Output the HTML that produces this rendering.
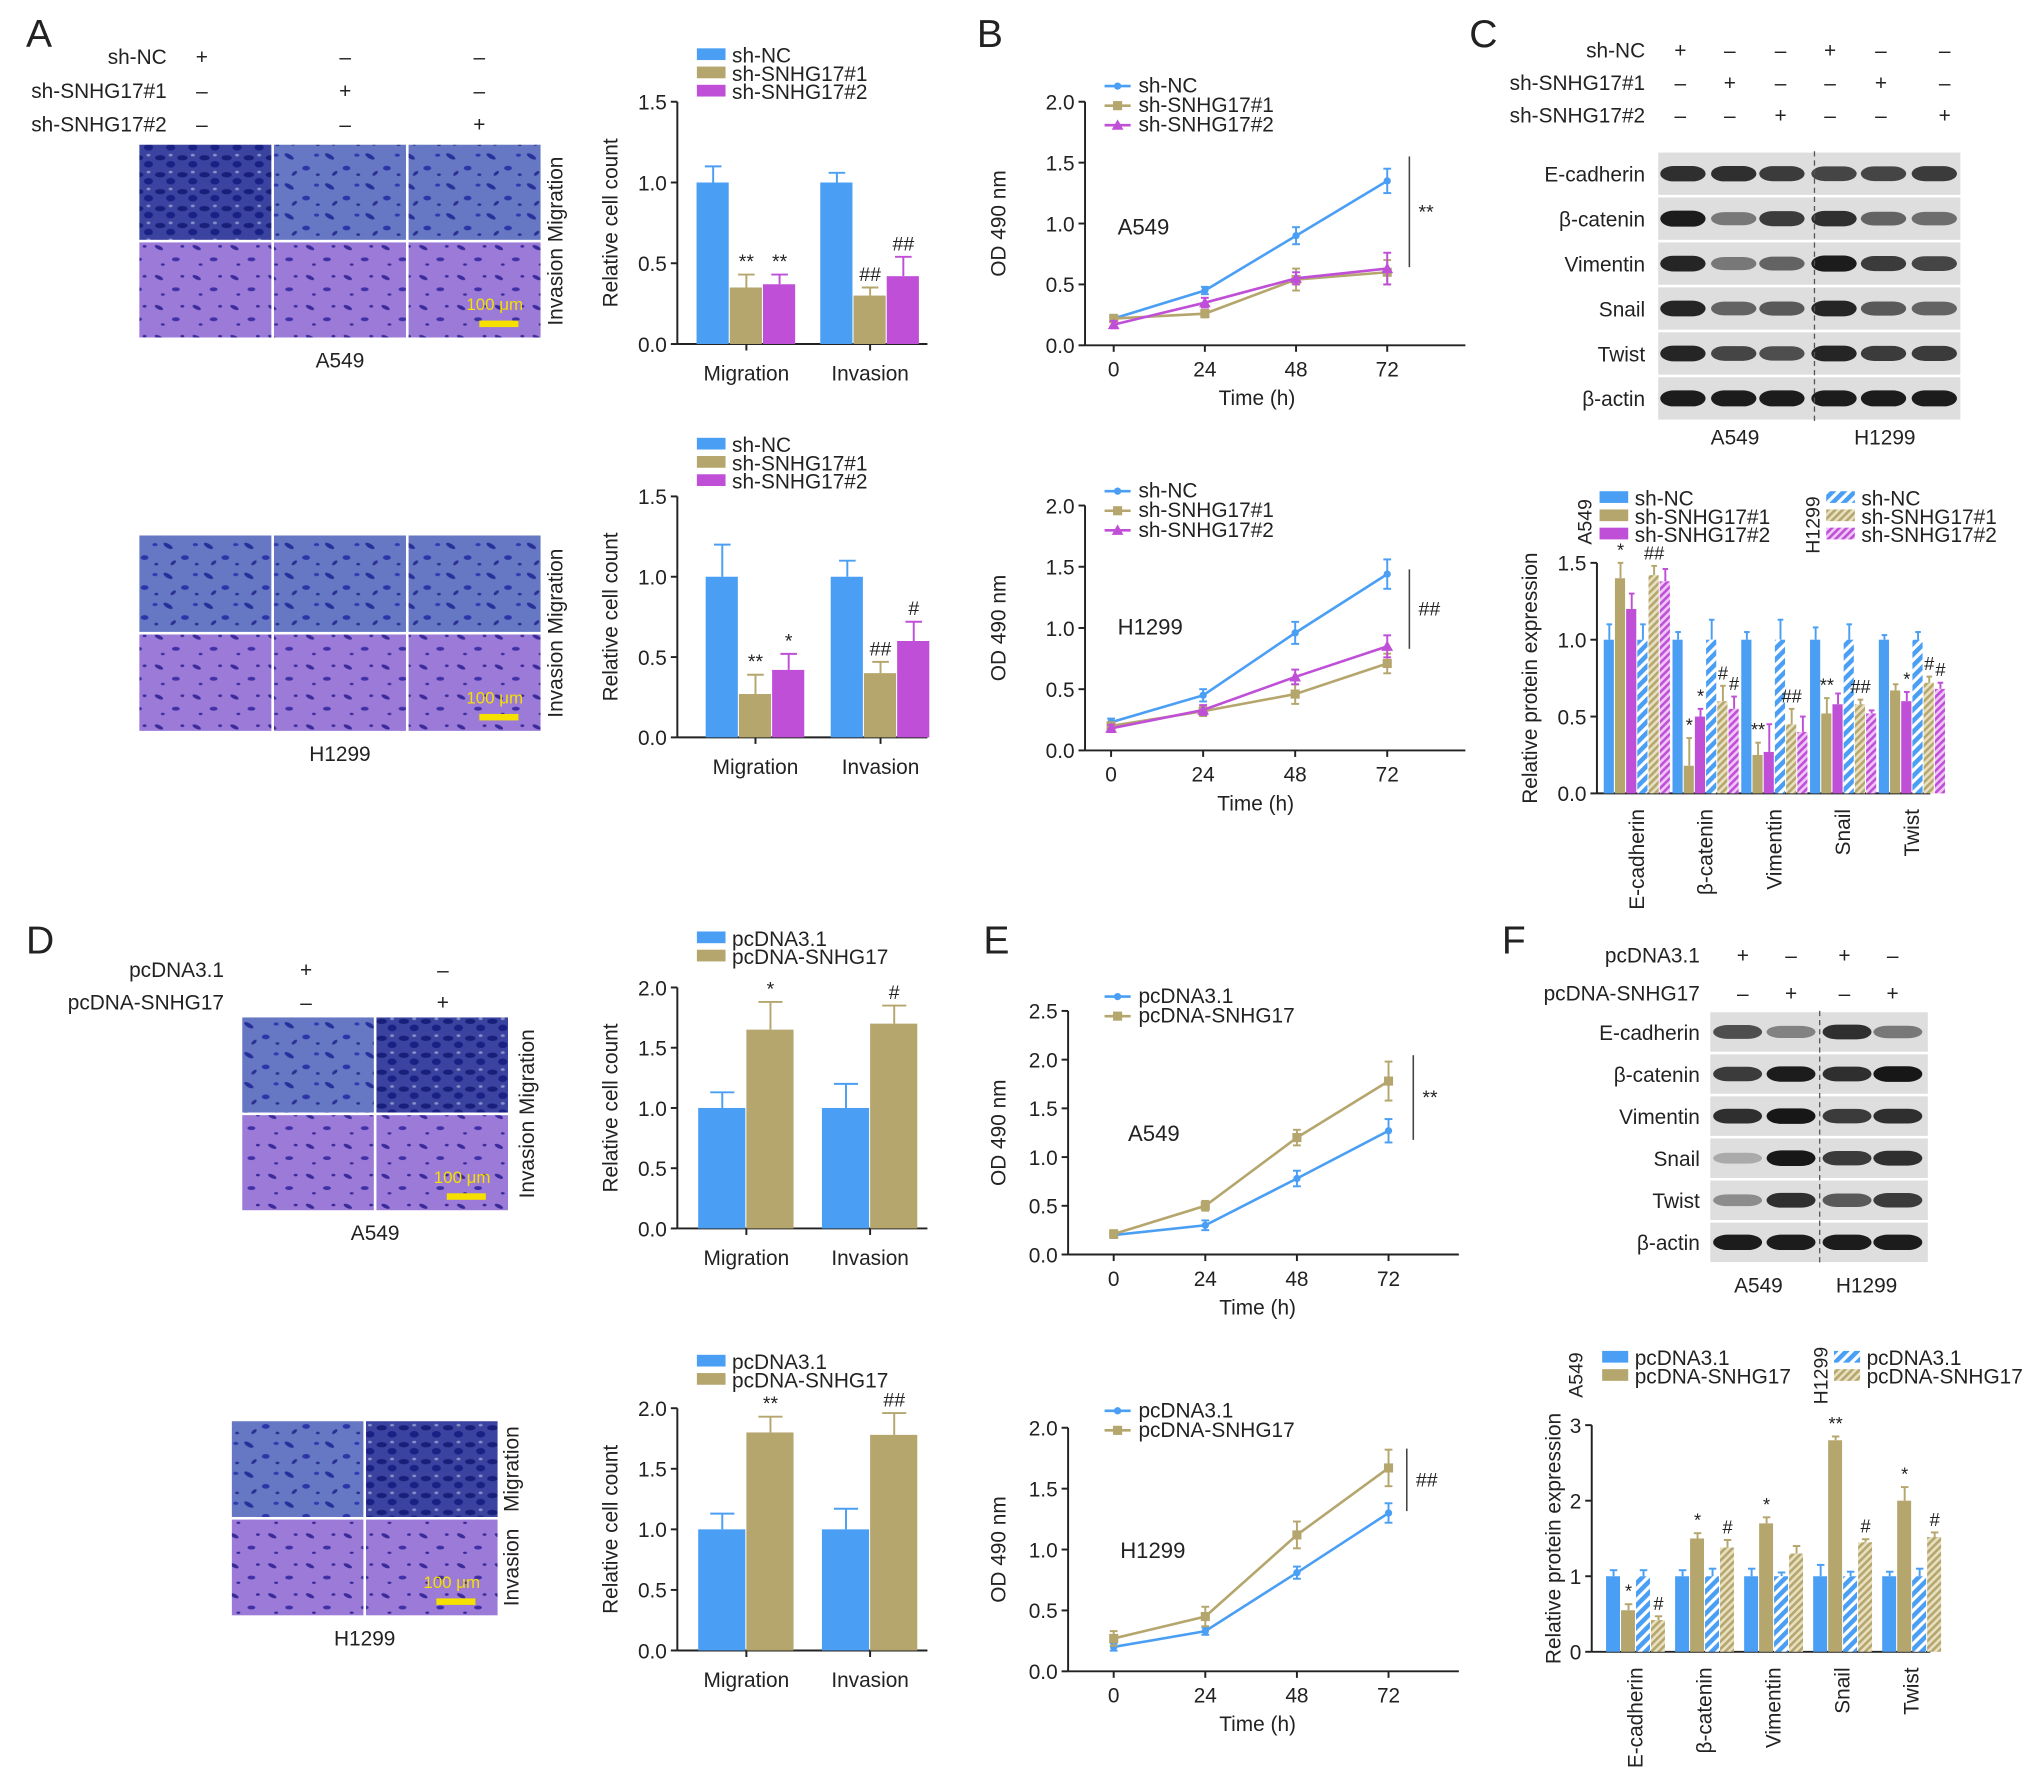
<!DOCTYPE html>
<html><head><meta charset="utf-8"><style>
html,body{margin:0;padding:0;background:#fff;width:2032px;height:1790px;overflow:hidden}
svg{display:block}
text{font-family:"Liberation Sans",sans-serif;fill:#222}
</style></head><body>
<svg id="fig" width="2032" height="1790" viewBox="0 0 1560 1374" xmlns="http://www.w3.org/2000/svg">
<defs>
<pattern id="hatchBlue" patternUnits="userSpaceOnUse" width="6" height="6" patternTransform="rotate(45)"><rect width="6" height="6" fill="#fff"/><rect width="3.5" height="6" fill="#4a9ff5"/></pattern>
<pattern id="hatchTan" patternUnits="userSpaceOnUse" width="4" height="4" patternTransform="rotate(45)"><rect width="4" height="4" fill="#e8e0c0"/><rect width="2" height="4" fill="#b5a66e"/></pattern>
<pattern id="hatchMag" patternUnits="userSpaceOnUse" width="4" height="4" patternTransform="rotate(45)"><rect width="4" height="4" fill="#f0c8f8"/><rect width="2" height="4" fill="#c04fd8"/></pattern>
<pattern id="cellsBlue" patternUnits="userSpaceOnUse" width="31" height="23"><rect width="31" height="23" fill="#6677c4"/><ellipse cx="5" cy="5" rx="4" ry="1.6" fill="#26309a" transform="rotate(30 5 5)"/><ellipse cx="18" cy="14" rx="3" ry="1.8" fill="#2b35a8"/><ellipse cx="26" cy="4" rx="2" ry="1.2" fill="#303ab0"/><ellipse cx="9" cy="18" rx="2.5" ry="1.2" fill="#2a2f90" transform="rotate(-40 9 18)"/><ellipse cx="27" cy="19" rx="1.5" ry="1" fill="#2a2f90"/></pattern>
<pattern id="cellsDark" patternUnits="userSpaceOnUse" width="17" height="13"><rect width="17" height="13" fill="#3a43a0"/><ellipse cx="4" cy="4" rx="4" ry="2" fill="#181f7a"/><ellipse cx="12" cy="9" rx="3.5" ry="2.5" fill="#1a2185"/><ellipse cx="12" cy="2" rx="1.5" ry="1" fill="#8890c8"/></pattern>
<pattern id="cellsPurple" patternUnits="userSpaceOnUse" width="29" height="23"><rect width="29" height="23" fill="#9b7ad8"/><ellipse cx="6" cy="6" rx="3.5" ry="1.4" fill="#3a2a9a" transform="rotate(25 6 6)"/><ellipse cx="19" cy="15" rx="3" ry="1.5" fill="#4030a8"/><ellipse cx="24" cy="5" rx="1.5" ry="1" fill="#3a2a9a"/><ellipse cx="9" cy="19" rx="1.5" ry="0.9" fill="#3a2a9a"/></pattern>
</defs>
</svg>
<script>
// ===== DATA =====
const aCats=['Migration','Invasion'];
const aTopNC=[1.0,1.0], aTopNCerr=[0.1,0.06];
const aTopS1=[0.35,0.30], aTopS1err=[0.08,0.05];
const aTopS2=[0.37,0.42], aTopS2err=[0.06,0.12];
const aTopSig1=['**','##'], aTopSig2=['**','##'];
const aBotNC=[1.0,1.0], aBotNCerr=[0.2,0.1];
const aBotS1=[0.27,0.40], aBotS1err=[0.12,0.07];
const aBotS2=[0.42,0.60], aBotS2err=[0.1,0.12];
const aBotSig1=['**','##'], aBotSig2=['*','#'];
const barTicks15=[0,0.5,1.0,1.5];
const times=[0,24,48,72];
const timeTicks=[0,24,48,72];
const bTopNC=[0.22,0.45,0.90,1.35], bTopNCerr=[0.03,0.03,0.07,0.1];
const bTopS1=[0.22,0.26,0.54,0.60], bTopS1err=[0.03,0.03,0.09,0.1];
const bTopS2=[0.17,0.35,0.55,0.63], bTopS2err=[0.03,0.04,0.05,0.13];
const bBotNC=[0.23,0.45,0.96,1.44], bBotNCerr=[0.03,0.05,0.09,0.12];
const bBotS1=[0.20,0.32,0.46,0.71], bBotS1err=[0.03,0.04,0.08,0.08];
const bBotS2=[0.18,0.33,0.60,0.85], bBotS2err=[0.03,0.04,0.06,0.09];
const lineTicks20=[0,0.5,1.0,1.5,2.0];
const proteins=['E-cadherin','β-catenin','Vimentin','Snail','Twist'];
const cA549NC=[1.0,1.0,1.0,1.0,1.0], cA549NCerr=[0.1,0.05,0.05,0.08,0.03];
const cA549S1=[1.40,0.18,0.25,0.52,0.67], cA549S1err=[0.1,0.18,0.08,0.1,0.04];
const cA549S2=[1.20,0.50,0.27,0.58,0.60], cA549S2err=[0.1,0.05,0.18,0.07,0.06];
const cH1299NC=[1.0,1.0,1.0,1.0,1.0], cH1299NCerr=[0.1,0.13,0.13,0.1,0.05];
const cH1299S1=[1.42,0.60,0.45,0.58,0.72], cH1299S1err=[0.06,0.1,0.1,0.03,0.04];
const cH1299S2=[1.38,0.55,0.40,0.52,0.68], cH1299S2err=[0.08,0.08,0.1,0.02,0.04];
const cSig=[['','*','','','##',''],['','*','*','','#','#'],['','**','','','##',''],['','**','','','##',''],['','','*','','#','#']];
const dTopPc=[1.0,1.0], dTopPcErr=[0.13,0.2];
const dTopSn=[1.65,1.70], dTopSnErr=[0.23,0.15];
const dTopSig=['*','#'];
const dBotPc=[1.0,1.0], dBotPcErr=[0.13,0.17];
const dBotSn=[1.80,1.78], dBotSnErr=[0.13,0.18];
const dBotSig=['**','##'];
const barTicks20=[0,0.5,1.0,1.5,2.0];
const eTopPc=[0.20,0.30,0.78,1.27], eTopPcErr=[0.03,0.05,0.08,0.12];
const eTopSn=[0.21,0.50,1.20,1.78], eTopSnErr=[0.04,0.05,0.08,0.2];
const eBotPc=[0.20,0.33,0.81,1.30], eBotPcErr=[0.03,0.03,0.05,0.08];
const eBotSn=[0.27,0.45,1.12,1.67], eBotSnErr=[0.06,0.08,0.11,0.15];
const lineTicks25=[0,0.5,1.0,1.5,2.0,2.5];
const fA549Pc=[1,1,1,1,1], fA549PcErr=[0.08,0.08,0.1,0.15,0.06];
const fA549Sn=[0.55,1.50,1.70,2.80,2.00], fA549SnErr=[0.08,0.07,0.08,0.05,0.18];
const fH1299Pc=[1,1,1,1,1], fH1299PcErr=[0.08,0.1,0.05,0.06,0.1];
const fH1299Sn=[0.42,1.38,1.30,1.45,1.52], fH1299SnErr=[0.05,0.1,0.1,0.04,0.06];
const fSig=[['','*','','#'],['','*','','#'],['','*','',''],['','**','','#'],['','*','','#']];
const fTicks=[0,1,2,3];

// ===== HELPERS =====
const NS='http://www.w3.org/2000/svg';
const svg=document.getElementById('fig');
const BLUE='#4a9ff5', TAN='#b5a66e', MAG='#c04fd8';
function mk(tag,name,attrs,parent,inter){
  const e=document.createElementNS(NS,tag);
  
  
  for(const k in attrs) e.setAttribute(k,attrs[k]);
  (parent||svg).appendChild(e);
  return e;
}
function txt(s,x,y,name,o,parent){
  o=o||{};
  const a={x:x,y:y,'font-size':o.fs||16,'text-anchor':o.anchor||'start'};
  if(o.rot!==undefined) a.transform='rotate('+o.rot+' '+x+' '+y+')';
  if(o.fill) a.style='fill:'+o.fill;
  const e=mk('text',name,a,parent);
  e.textContent=s;return e;
}
function line(x1,y1,x2,y2,name,col,w,parent){
  return mk('line',name,{x1:x1,y1:y1,x2:x2,y2:y2,stroke:col||'#222','stroke-width':w||1.5},parent);
}
function fmt(v,d){return v.toFixed(d);}

function yAxis(g,cfg){
  const ys=v=>cfg.y0-(v/cfg.ymax)*(cfg.y0-cfg.yTop);
  line(cfg.x,cfg.y0,cfg.x,ys(cfg.ticks[cfg.ticks.length-1]),'y-axis-line','#222',1.5,g);
  cfg.ticks.forEach(t=>{
    line(cfg.x-5,ys(t),cfg.x,ys(t),'y-tick','#222',1.5,g);
    txt(fmt(t,cfg.dec),cfg.x-8,ys(t)+6,'y-tick-label',{fs:cfg.fs||16,anchor:'end'},g);
  });
  line(cfg.x,cfg.y0,cfg.xEnd,cfg.y0,'x-axis-line','#222',1.5,g);
  txt(cfg.title,cfg.titleX,(cfg.y0+ys(cfg.ticks[cfg.ticks.length-1]))/2,'y-axis-title',{fs:16,anchor:'middle',rot:-90},g);
  return ys;
}

function barChart(name,cfg){
  const g=mk('g',name,{});
  const ys=yAxis(g,cfg);
  cfg.centers.forEach((c,ci)=>{
    const n=cfg.series.length;
    cfg.series.forEach((s,si)=>{
      const x=c+(si-n/2)*cfg.bw;
      const v=s.vals[ci], e=s.errs[ci];
      line(x+cfg.bw/2,ys(v),x+cfg.bw/2,ys(v+e),'error-bar',s.color,1.5,g);
      line(x+cfg.bw/2-cfg.bw*0.25,ys(v+e),x+cfg.bw/2+cfg.bw*0.25,ys(v+e),'error-cap',s.color,1.5,g);
      mk('rect','bar-'+s.key+'-'+ci,{x:x,y:ys(v),width:cfg.bw-0.8,height:cfg.y0-ys(v),fill:s.fill||s.color},g);
      const sig=s.sig?s.sig[ci]:(cfg.sigMat?cfg.sigMat[ci][si]:'');
      if(sig) txt(sig,x+cfg.bw/2,ys(v+e)-5,'significance-mark',{fs:cfg.sigFs||15,anchor:'middle'},g);
    });
    if(cfg.catRot){
      txt(cfg.cats[ci],c+5,cfg.y0+12,'x-category-label',{fs:16,anchor:'end',rot:-90},g);
    }else{
      line(c,cfg.y0,c,cfg.y0+5,'x-tick','#222',1.5,g);
      txt(cfg.cats[ci],c,cfg.y0+28,'x-category-label',{fs:16,anchor:'middle'},g);
    }
  });
  return g;
}

function legend(g,x,y,items,dy,type){
  items.forEach((it,i)=>{
    if(type==='line'){
      line(x,y+i*dy-5,x+20,y+i*dy-5,'legend-line',it.color,2,g);
      marker(g,x+10,y+i*dy-5,it.shape,it.color);
    }else{
      mk('rect','legend-swatch',{x:x,y:y+i*dy-11,width:it.w||22,height:9,fill:it.fill||it.color},g);
    }
    txt(it.label,x+(type==='line'?26:(it.w||22)+5),y+i*dy,'legend-entry',{fs:16},g);
  });
}
function marker(g,x,y,shape,col){
  if(shape==='sq') mk('rect','marker-square',{x:x-3.5,y:y-3.5,width:7,height:7,fill:col},g);
  else if(shape==='tri') mk('polygon','marker-triangle',{points:(x)+','+(y-4.5)+' '+(x-4.5)+','+(y+3.5)+' '+(x+4.5)+','+(y+3.5),fill:col},g);
  else mk('circle','marker-circle',{cx:x,cy:y,r:2.8,fill:col},g);
}

function lineChart(name,cfg){
  const g=mk('g',name,{});
  const ys=yAxis(g,cfg);
  const xs=t=>cfg.xa+(t/72)*(cfg.xb-cfg.xa);
  timeTicks.forEach(t=>{
    line(xs(t),cfg.y0,xs(t),cfg.y0+5,'x-tick','#222',1.5,g);
    txt(String(t),xs(t),cfg.y0+24,'x-tick-label',{fs:16,anchor:'middle'},g);
  });
  txt('Time (h)',(xs(0)+xs(72))/2+5,cfg.y0+46,'x-axis-title',{fs:16,anchor:'middle'},g);
  cfg.series.forEach(s=>{
    const pts=times.map((t,i)=>xs(t)+','+ys(s.vals[i])).join(' ');
    mk('polyline','series-line-'+s.key,{points:pts,fill:'none',stroke:s.color,'stroke-width':2},g);
    times.forEach((t,i)=>{
      const v=s.vals[i],e=s.errs[i];
      line(xs(t),ys(v-e),xs(t),ys(v+e),'error-bar',s.color,1.5,g);
      line(xs(t)-3,ys(v+e),xs(t)+3,ys(v+e),'error-cap',s.color,1.5,g);
      line(xs(t)-3,ys(v-e),xs(t)+3,ys(v-e),'error-cap',s.color,1.5,g);
      marker(g,xs(t),ys(v),s.shape,s.color);
    });
  });
  legend(g,cfg.legX,cfg.legY,cfg.series,15,'line');
  txt(cfg.cell,cfg.cellX,cfg.cellY,'cell-line-label',{fs:17},g);
  line(cfg.sigX,cfg.sigY1,cfg.sigX,cfg.sigY2,'significance-bracket','#444',1.2,g);
  txt(cfg.sig,cfg.sigX+7,(cfg.sigY1+cfg.sigY2)/2+5,'significance-mark',{fs:15},g);
  return g;
}

function micro(name,x,y,w,h,cols,fills,cell,rowLabelX,splitLabels){
  const g=mk('g',name,{});
  const cw=w/cols, rh=h/2;
  for(let r=0;r<2;r++)for(let c=0;c<cols;c++){
    mk('rect','micrograph-r'+r+'c'+c,{x:x+c*cw+1,y:y+r*rh+1,width:cw-2,height:rh-2,fill:fills[r][c]},g);
  }
  mk('rect','scale-bar',{x:x+w-48,y:y+h-14,width:30,height:5,fill:'#f5e000'},g);
  txt('100 μm',x+w-58,y+h-22,'scale-label',{fs:13,fill:'#f5e000'},g);
  txt(cell,x+w/2,y+h+22,'cell-line-label',{fs:16,anchor:'middle'},g);
  if(splitLabels){
    txt('Migration',rowLabelX,y+rh/2,'row-label-migration',{fs:16,anchor:'middle',rot:-90},g);
    txt('Invasion',rowLabelX,y+rh+rh/2,'row-label-invasion',{fs:16,anchor:'middle',rot:-90},g);
  }else{
    txt('Invasion Migration',rowLabelX,y+h/2,'row-labels',{fs:16,anchor:'middle',rot:-90},g);
  }
  return g;
}

function blot(name,x,y,w,rows,rowH,lanes,intens,dashX,labX){
  const g=mk('g',name,{});
  rows.forEach((r,ri)=>{
    const ry=y+ri*rowH;
    mk('rect','blot-strip-'+ri,{x:x,y:ry+1,width:w,height:rowH-2,fill:'#dedede'},g);
    const bw=(w/lanes.length)*0.9;
    lanes.forEach((lx,li)=>{
      const op=intens[ri][li];
      const bh=rowH*0.22+op*5;
      mk('rect','blot-band',{x:lx-bw/2,y:ry+rowH/2-bh/2,width:bw,height:bh,rx:bw*0.3,ry:bh/2,fill:'#111','fill-opacity':op},g);
    });
    txt(r,labX,ry+rowH/2+6,'blot-row-label',{fs:16,anchor:'end'},g);
  });
  mk('line','lane-divider',{x1:dashX,y1:y,x2:dashX,y2:y+rows.length*rowH,stroke:'#555','stroke-width':1,'stroke-dasharray':'4,3'},g);
  return g;
}
function signs(name,labels,labX,ys,cols,marks){
  const g=mk('g',name,{});
  labels.forEach((l,i)=>{
    txt(l,labX,ys[i],'condition-label',{fs:16,anchor:'end'},g);
    cols.forEach((cx,j)=>txt(marks[i][j],cx,ys[i],'condition-sign',{fs:16,anchor:'middle'},g));
  });
}

// ===== PANEL LETTERS =====
[['A',20,36],['B',750,36],['C',1128,36],['D',20,732],['E',755,732],['F',1153,732]].forEach(p=>txt(p[0],p[1],p[2],'panel-letter-'+p[0],{fs:30}));

// ===== PANEL A =====
signs('a-conditions',['sh-NC','sh-SNHG17#1','sh-SNHG17#2'],128,[49,75,101],[155,265,368],[['+','–','–'],['–','+','–'],['–','–','+']]);
micro('a-micrograph-a549',106,110,310,150,3,[['url(#cellsDark)','url(#cellsBlue)','url(#cellsBlue)'],['url(#cellsPurple)','url(#cellsPurple)','url(#cellsPurple)']],'A549',432,false);
micro('a-micrograph-h1299',106,410,310,152,3,[['url(#cellsBlue)','url(#cellsBlue)','url(#cellsBlue)'],['url(#cellsPurple)','url(#cellsPurple)','url(#cellsPurple)']],'H1299',432,false);
{
 const g=barChart('a-bar-a549',{x:520,y0:264,yTop:78,ymax:1.5,ticks:barTicks15,dec:1,xEnd:712,title:'Relative cell count',titleX:474,
  centers:[573,668],bw:25.5,cats:aCats,series:[
   {key:'sh-nc',color:BLUE,vals:aTopNC,errs:aTopNCerr},
   {key:'sh1',color:TAN,vals:aTopS1,errs:aTopS1err,sig:aTopSig1},
   {key:'sh2',color:MAG,vals:aTopS2,errs:aTopS2err,sig:aTopSig2}]});
 legend(g,535,48,[{label:'sh-NC',color:BLUE},{label:'sh-SNHG17#1',color:TAN},{label:'sh-SNHG17#2',color:MAG}],14);
 const g2=barChart('a-bar-h1299',{x:520,y0:566,yTop:381,ymax:1.5,ticks:barTicks15,dec:1,xEnd:712,title:'Relative cell count',titleX:474,
  centers:[580,676],bw:25.5,cats:aCats,series:[
   {key:'sh-nc',color:BLUE,vals:aBotNC,errs:aBotNCerr},
   {key:'sh1',color:TAN,vals:aBotS1,errs:aBotS1err,sig:aBotSig1},
   {key:'sh2',color:MAG,vals:aBotS2,errs:aBotS2err,sig:aBotSig2}]});
 legend(g2,535,347,[{label:'sh-NC',color:BLUE},{label:'sh-SNHG17#1',color:TAN},{label:'sh-SNHG17#2',color:MAG}],14);
}

// ===== PANEL B =====
lineChart('b-line-a549',{x:833,y0:265,yTop:78,ymax:2.0,ticks:lineTicks20,dec:1,xEnd:1125,title:'OD 490 nm',titleX:772,xa:855,xb:1065,
 series:[{key:'sh-nc',label:'sh-NC',color:BLUE,shape:'circ',vals:bTopNC,errs:bTopNCerr},
         {key:'sh1',label:'sh-SNHG17#1',color:TAN,shape:'sq',vals:bTopS1,errs:bTopS1err},
         {key:'sh2',label:'sh-SNHG17#2',color:MAG,shape:'tri',vals:bTopS2,errs:bTopS2err}],
 legX:848,legY:71,cell:'A549',cellX:858,cellY:180,sig:'**',sigX:1082,sigY1:120,sigY2:205});
lineChart('b-line-h1299',{x:833,y0:576,yTop:388,ymax:2.0,ticks:lineTicks20,dec:1,xEnd:1125,title:'OD 490 nm',titleX:772,xa:853,xb:1065,
 series:[{key:'sh-nc',label:'sh-NC',color:BLUE,shape:'circ',vals:bBotNC,errs:bBotNCerr},
         {key:'sh1',label:'sh-SNHG17#1',color:TAN,shape:'sq',vals:bBotS1,errs:bBotS1err},
         {key:'sh2',label:'sh-SNHG17#2',color:MAG,shape:'tri',vals:bBotS2,errs:bBotS2err}],
 legX:848,legY:382,cell:'H1299',cellX:858,cellY:487,sig:'##',sigX:1082,sigY1:437,sigY2:498});

// ===== PANEL C =====
signs('c-conditions',['sh-NC','sh-SNHG17#1','sh-SNHG17#2'],1263,[44,69,94],[1290,1328,1367,1405,1444,1493],[['+','–','–','+','–','–'],['–','+','–','–','+','–'],['–','–','+','–','–','+']]);
blot('c-western-blot',1273,116,232,['E-cadherin','β-catenin','Vimentin','Snail','Twist','β-actin'],34.5,[1292,1331,1368,1408,1446,1485],
 [[0.85,0.85,0.8,0.75,0.75,0.8],[0.95,0.5,0.8,0.85,0.6,0.55],[0.9,0.5,0.6,0.95,0.8,0.75],[0.9,0.6,0.65,0.9,0.65,0.6],[0.9,0.75,0.7,0.9,0.8,0.8],[0.95,0.95,0.95,0.95,0.95,0.95]],1393,1263);
txt('A549',1332,341,'c-blot-cell-a549',{fs:16,anchor:'middle'});
txt('H1299',1447,341,'c-blot-cell-h1299',{fs:16,anchor:'middle'});
{
 const cen=proteins.map((p,i)=>1257+i*52.8);
 const g=barChart('c-bar-protein',{x:1226,y0:609,yTop:432,ymax:1.5,ticks:barTicks15,dec:1,xEnd:1482,title:'Relative protein expression',titleX:1180,
  centers:cen,bw:8.6,cats:proteins,catRot:true,sigMat:cSig,sigFs:14,series:[
   {key:'a549-nc',color:BLUE,vals:cA549NC,errs:cA549NCerr},
   {key:'a549-sh1',color:TAN,vals:cA549S1,errs:cA549S1err},
   {key:'a549-sh2',color:MAG,vals:cA549S2,errs:cA549S2err},
   {key:'h1299-nc',color:BLUE,fill:'url(#hatchBlue)',vals:cH1299NC,errs:cH1299NCerr},
   {key:'h1299-sh1',color:TAN,fill:'url(#hatchTan)',vals:cH1299S1,errs:cH1299S1err},
   {key:'h1299-sh2',color:MAG,fill:'url(#hatchMag)',vals:cH1299S2,errs:cH1299S2err}]});
 txt('A549',1222,418,'legend-group-a549',{fs:15,rot:-90});
 legend(g,1228,388,[{label:'sh-NC',color:BLUE},{label:'sh-SNHG17#1',color:TAN},{label:'sh-SNHG17#2',color:MAG}],14);
 txt('H1299',1397,425,'legend-group-h1299',{fs:15,rot:-90});
 legend(g,1402,388,[{label:'sh-NC',fill:'url(#hatchBlue)'},{label:'sh-SNHG17#1',fill:'url(#hatchTan)'},{label:'sh-SNHG17#2',fill:'url(#hatchMag)'}],14);
}

// ===== PANEL D =====
signs('d-conditions',['pcDNA3.1','pcDNA-SNHG17'],172,[750,775],[235,340],[['+','–'],['–','+']]);
micro('d-micrograph-a549',185,780,206,150,2,[['url(#cellsBlue)','url(#cellsDark)'],['url(#cellsPurple)','url(#cellsPurple)']],'A549',410,false);
micro('d-micrograph-h1299',177,1090,206,151,2,[['url(#cellsBlue)','url(#cellsDark)'],['url(#cellsPurple)','url(#cellsPurple)']],'H1299',398,true);
{
 const g=barChart('d-bar-a549',{x:520,y0:943,yTop:758,ymax:2.0,ticks:barTicks20,dec:1,xEnd:712,title:'Relative cell count',titleX:474,
  centers:[573,668],bw:37,cats:aCats,series:[
   {key:'pcdna',color:BLUE,vals:dTopPc,errs:dTopPcErr},
   {key:'pcdna-snhg17',color:TAN,vals:dTopSn,errs:dTopSnErr,sig:dTopSig}]});
 legend(g,535,726,[{label:'pcDNA3.1',color:BLUE},{label:'pcDNA-SNHG17',color:TAN}],14);
 const g2=barChart('d-bar-h1299',{x:520,y0:1267,yTop:1081,ymax:2.0,ticks:barTicks20,dec:1,xEnd:712,title:'Relative cell count',titleX:474,
  centers:[573,668],bw:37,cats:aCats,series:[
   {key:'pcdna',color:BLUE,vals:dBotPc,errs:dBotPcErr},
   {key:'pcdna-snhg17',color:TAN,vals:dBotSn,errs:dBotSnErr,sig:dBotSig}]});
 legend(g2,535,1051,[{label:'pcDNA3.1',color:BLUE},{label:'pcDNA-SNHG17',color:TAN}],14);
}

// ===== PANEL E =====
lineChart('e-line-a549',{x:820,y0:963,yTop:776,ymax:2.5,ticks:lineTicks25,dec:1,xEnd:1120,title:'OD 490 nm',titleX:772,xa:855,xb:1066,
 series:[{key:'pcdna',label:'pcDNA3.1',color:BLUE,shape:'circ',vals:eTopPc,errs:eTopPcErr},
         {key:'pcdna-snhg17',label:'pcDNA-SNHG17',color:TAN,shape:'sq',vals:eTopSn,errs:eTopSnErr}],
 legX:848,legY:770,cell:'A549',cellX:866,cellY:876,sig:'**',sigX:1085,sigY1:810,sigY2:875});
lineChart('e-line-h1299',{x:820,y0:1283,yTop:1096,ymax:2.0,ticks:lineTicks20,dec:1,xEnd:1120,title:'OD 490 nm',titleX:772,xa:855,xb:1066,
 series:[{key:'pcdna',label:'pcDNA3.1',color:BLUE,shape:'circ',vals:eBotPc,errs:eBotPcErr},
         {key:'pcdna-snhg17',label:'pcDNA-SNHG17',color:TAN,shape:'sq',vals:eBotSn,errs:eBotSnErr}],
 legX:848,legY:1088,cell:'H1299',cellX:860,cellY:1196,sig:'##',sigX:1080,sigY1:1112,sigY2:1160});

// ===== PANEL F =====
signs('f-conditions',['pcDNA3.1','pcDNA-SNHG17'],1305,[739,768],[1338,1375,1416,1453],[['+','–','+','–'],['–','+','–','+']]);
blot('f-western-blot',1313,776,167,['E-cadherin','β-catenin','Vimentin','Snail','Twist','β-actin'],32.3,[1334,1375,1418,1457],
 [[0.7,0.45,0.85,0.5],[0.8,0.95,0.85,0.97],[0.85,0.97,0.8,0.85],[0.25,0.97,0.8,0.85],[0.4,0.85,0.65,0.8],[0.95,0.95,0.95,0.95]],1397,1305);
txt('A549',1350,992,'f-blot-cell-a549',{fs:16,anchor:'middle'});
txt('H1299',1433,992,'f-blot-cell-h1299',{fs:16,anchor:'middle'});
{
 const cen=proteins.map((p,i)=>1256+i*53);
 const g=barChart('f-bar-protein',{x:1222,y0:1268,yTop:1094,ymax:3,ticks:fTicks,dec:0,xEnd:1482,title:'Relative protein expression',titleX:1198,
  centers:cen,bw:11.5,cats:proteins,catRot:true,sigMat:fSig,sigFs:14,series:[
   {key:'a549-pc',color:BLUE,vals:fA549Pc,errs:fA549PcErr},
   {key:'a549-sn',color:TAN,vals:fA549Sn,errs:fA549SnErr},
   {key:'h1299-pc',color:BLUE,fill:'url(#hatchBlue)',vals:fH1299Pc,errs:fH1299PcErr},
   {key:'h1299-sn',color:TAN,fill:'url(#hatchTan)',vals:fH1299Sn,errs:fH1299SnErr}]});
 txt('A549',1215,1073,'legend-group-a549',{fs:15,rot:-90});
 legend(g,1230,1048,[{label:'pcDNA3.1',color:BLUE,w:20},{label:'pcDNA-SNHG17',color:TAN,w:20}],14);
 txt('H1299',1403,1078,'legend-group-h1299',{fs:15,rot:-90});
 legend(g,1408,1048,[{label:'pcDNA3.1',fill:'url(#hatchBlue)',w:20},{label:'pcDNA-SNHG17',fill:'url(#hatchTan)',w:20}],14);
}
</script>
</body></html>
